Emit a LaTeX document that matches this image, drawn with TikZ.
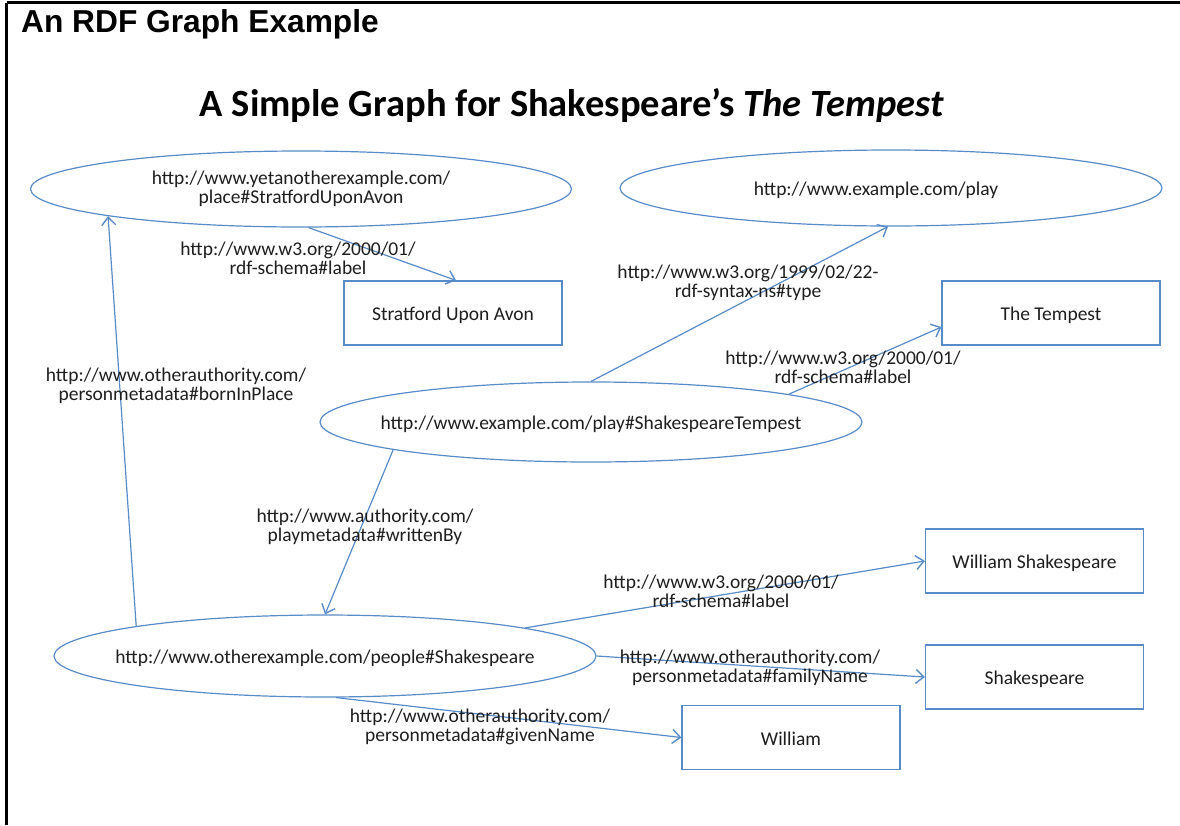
\documentclass[tikz,border=0pt]{standalone}
\usepackage{fontspec}
\setmainfont{Carlito}
\newfontfamily\arialfont{Liberation Sans}
\usetikzlibrary{shapes.geometric,arrows.meta,calc}
\definecolor{edgeblue}{RGB}{88,140,200}
\definecolor{txt}{RGB}{30,30,30}
\newcommand\lblfont{\fontsize{19.5}{19}\selectfont}
\newcommand\zw[1]{\makebox[0pt]{#1}}
\begin{document}
\begin{tikzpicture}[x=1pt,y=-1pt,
  ell/.style={ellipse, draw=edgeblue, line width=1.2pt, inner sep=0pt, font=\lblfont, text=txt, align=center},
  low/.style={text height=15pt, text depth=0pt},
  box/.style={rectangle, draw=edgeblue, line width=1.2pt, inner sep=0pt, font=\lblfont, text=txt, minimum width=218pt, minimum height=64pt, low},
  lab/.style={align=center, font=\lblfont, text=txt, inner sep=0pt},
  arr/.style={draw=edgeblue, line width=1.2pt, -{Straight Barb[length=8pt,width=14pt,line width=1.4pt]}}]
\useasboundingbox (0,0) rectangle (1180,825);
\fill[white] (0,0) rectangle (1180,825);
% frame
\draw[line width=3pt] (6.5,2.5) -- (1180,2.5);
\draw[line width=3pt] (6.5,2.5) -- (6.5,825);
% titles
\node[anchor=west, inner sep=0pt, font=\arialfont\bfseries\fontsize{31.7}{32}\selectfont] (title) at (21,24) {An RDF Graph Example};
\node[inner sep=0pt, font=\bfseries\fontsize{38.5}{38}\selectfont] (subtitle) at (572,106) {A Simple Graph for Shakespeare’s \textit{The Tempest}};
% ellipses
\node[ell, minimum width=541pt, minimum height=76pt] (strat) at (301,189) {\zw{http://www.yetanotherexample.com/}\\\zw{place\#StratfordUponAvon}};
\node[ell, low, minimum width=542pt, minimum height=76pt] (play) at (891,188) {\zw{\hspace*{-30pt}http://www.example.com/play}};
\node[ell, low, minimum width=542pt, minimum height=80pt] (tempest) at (591,422) {\zw{http://www.example.com/play\#ShakespeareTempest}};
\node[ell, low, minimum width=542pt, minimum height=82pt] (person) at (325,656) {\zw{http://www.otherexample.com/people\#Shakespeare}};
% boxes
\node[box] (sbox) at (453,313) {Stratford Upon Avon};
\node[box] (tbox) at (1051,313) {The Tempest};
\node[box] (wsbox) at (1034.5,561) {William Shakespeare};
\node[box] (shbox) at (1034.5,677) {Shakespeare};
\node[box] (wbox) at (791,737.5) {William};
% edges
\draw[arr] (strat.-79.6) -- ([xshift=3pt]sbox.north);
\draw[arr] (tempest.north) -- ([xshift=-3pt]play.south);
\draw[arr] (tempest.8.7) -- ([yshift=-14pt]tbox.west);
\draw[arr] (tempest.188.6) -- (person.north);
\draw[arr] (person.171.7) -- (strat.188.3);
\draw[arr] (person.8.3) -- (wsbox.west);
\draw[arr] (person.east) -- (shbox.west);
\draw[arr] (person.-75) -- (wbox.west);
% labels
\node[lab] (l1) at (298,258) {http://www.w3.org/2000/01/\\rdf-schema\#label};
\node[lab] (l2) at (748,283) {http://www.w3.org/1999/02/22-\\rdf-syntax-ns\#type};
\node[lab] (l3) at (843,367) {http://www.w3.org/2000/01/\\rdf-schema\#label};
\node[lab] (l4) at (176,386) {http://www.otherauthority.com/\\personmetadata\#bornInPlace};
\node[lab] (l5) at (365,527) {http://www.authority.com/\\playmetadata\#writtenBy};
\node[lab] (l6) at (721,591) {http://www.w3.org/2000/01/\\rdf-schema\#label};
\node[lab] (l7) at (750,668) {http://www.otherauthority.com/\\personmetadata\#familyName};
\node[lab] (l8) at (480,727) {http://www.otherauthority.com/\\personmetadata\#givenName};
\end{tikzpicture}
\end{document}
